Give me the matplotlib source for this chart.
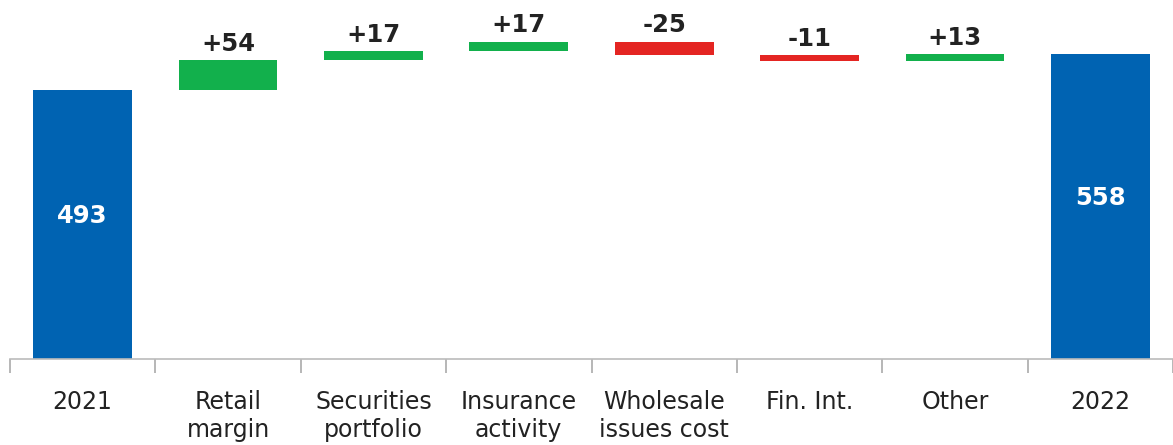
import numpy as np
import matplotlib
matplotlib.use("Agg")
import matplotlib.pyplot as plt

categories = ["2021", "Retail\nmargin", "Securities\nportfolio", "Insurance\nactivity",
              "Wholesale\nissues cost", "Fin. Int.", "Other", "2022"]
start_value = 493
deltas = [54, 17, 17, -25, -11, 13]
end_value = 558

blue = "#0063B2"
green = "#12B04C"
red = "#E42522"

fig = plt.figure(figsize=(11.73, 4.45), dpi=100)
ax = fig.add_axes([10 / 1173, 86 / 445, 1 - 10 / 1173, 359 / 445])

x = np.arange(len(categories))
w = 0.68

# totals
ax.bar(x[0], start_value, width=w, color=blue)
ax.bar(x[-1], end_value, width=w, color=blue)
for xi, v in [(x[0], start_value), (x[-1], end_value)]:
    ax.annotate(str(v), (xi, v / 2), xytext=(0, 6), textcoords="offset points",
                ha="center", va="center", color="white", fontsize=17.5, fontweight="bold")

# steps
level = start_value
for i, d in enumerate(deltas):
    xi = x[i + 1]
    bottom = level if d > 0 else level + d
    ax.bar(xi, abs(d), bottom=bottom, width=w, color=green if d > 0 else red)
    top = bottom + abs(d)
    ax.annotate(("+%d" % d) if d > 0 else str(d), (xi, top), xytext=(0, 3),
                textcoords="offset points", ha="center", va="bottom",
                color="#222222", fontsize=17.5, fontweight="bold")
    level += d

ax.set_xlim(-0.5, 7.44)
ax.set_ylim(0, 657)
ax.set_xticks(np.arange(len(categories) + 1) - 0.5)
ax.set_xticklabels([])
ax.set_xticks(x, minor=True)
ax.set_xticklabels(categories, minor=True, fontsize=17, color="#222222", linespacing=1.25)
ax.tick_params(axis="x", which="major", length=10, width=1.2, color="#aaaaaa")
ax.tick_params(axis="x", which="minor", length=0, pad=22)
ax.set_yticks([])
for s in ["top", "right", "left"]:
    ax.spines[s].set_visible(False)
ax.spines["bottom"].set_color("#bbbbbb")
ax.spines["bottom"].set_linewidth(1.2)

fig.savefig("out.png", dpi=100)
